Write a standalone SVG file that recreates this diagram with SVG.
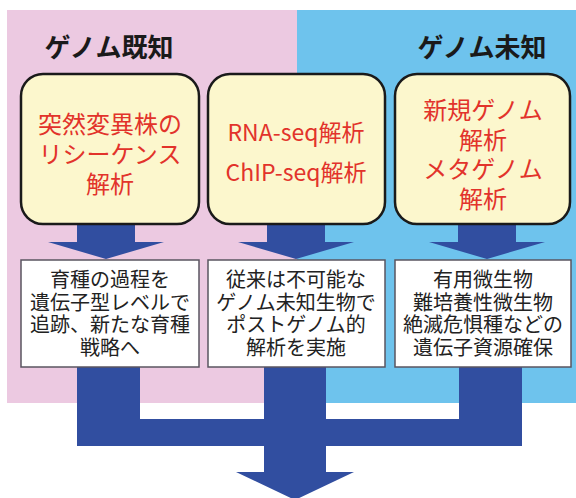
<svg xmlns="http://www.w3.org/2000/svg" width="576" height="498" viewBox="0 0 576 498">
<style>
.hdr{font-family:"Noto Sans CJK JP","Noto Sans CJK SC",sans-serif;font-weight:bold;font-size:26px;fill:#1a1a1a;text-anchor:middle;dominant-baseline:central}
.yb{fill:#fcf7cd;stroke:#1a1a1a;stroke-width:2.5}
.yt{font-family:"Noto Sans CJK JP","Noto Sans CJK SC",sans-serif;font-size:24px;fill:#e2332b;text-anchor:middle;dominant-baseline:central}
.yt2{font-size:23px}
.wb{fill:#ffffff;stroke:#5a5560;stroke-width:1.5}
.wt{font-family:"Noto Sans CJK JP","Noto Sans CJK SC",sans-serif;font-size:20px;fill:#222;text-anchor:middle;dominant-baseline:central}
.arr{fill:#314ea0}
</style>
<rect x="0" y="0" width="576" height="498" fill="#ffffff"/>
<rect x="7" y="10" width="290" height="393" fill="#ecc9e1"/>
<rect x="297" y="10" width="279" height="393" fill="#6ec3ed"/>
<text class="hdr" x="109" y="45">ゲノム既知</text>
<text class="hdr" x="482" y="45">ゲノム未知</text>
<g id="connectors">
<path class="arr" d="M77,367 H140 V419 H264 V367 H326 V419 H459 V367 H522 V446 H326 V472 H354 L295,500 L236,472 H264 V446 H77 Z"/>
<path class="arr" d="M77,222 H135 V242 H164 L106,259 L48,242 H77 Z"/>
<path class="arr" d="M267,222 H325 V242 H354 L296,259 L238,242 H267 Z"/>
<path class="arr" d="M458,222 H516 V242 H545 L487,259 L429,242 H458 Z"/>
</g>
<g id="node-mutant">
<rect class="yb" x="21" y="74" width="178" height="150" rx="22"/>
<text class="yt" x="110" y="122">突然変異株の</text>
<text class="yt" x="110" y="152">リシーケンス</text>
<text class="yt" x="110" y="182">解析</text>
</g>
<g id="node-seq">
<rect class="yb" x="208" y="74" width="177" height="150" rx="22"/>
<text class="yt yt2" x="296" y="131">RNA-seq解析</text>
<text class="yt yt2" x="296" y="171">ChIP-seq解析</text>
</g>
<g id="node-novel">
<rect class="yb" x="395" y="74" width="175" height="150" rx="22"/>
<text class="yt" x="483" y="108">新規ゲノム</text>
<text class="yt" x="483" y="138">解析</text>
<text class="yt" x="483" y="167">メタゲノム</text>
<text class="yt" x="483" y="197">解析</text>
</g>
<g id="node-breeding">
<rect class="wb" x="21" y="260" width="178" height="107"/>
<text class="wt" x="110" y="278.5">育種の過程を</text>
<text class="wt" x="110" y="301">遺伝子型レベルで</text>
<text class="wt" x="110" y="323.5">追跡、新たな育種</text>
<text class="wt" x="110" y="346">戦略へ</text>
</g>
<g id="node-postgenome">
<rect class="wb" x="208" y="260" width="177" height="107"/>
<text class="wt" x="296" y="278.5">従来は不可能な</text>
<text class="wt" x="296" y="301">ゲノム未知生物で</text>
<text class="wt" x="296" y="323.5">ポストゲノム的</text>
<text class="wt" x="296" y="346">解析を実施</text>
</g>
<g id="node-resources">
<rect class="wb" x="395" y="260" width="176" height="107"/>
<text class="wt" x="483" y="278.5">有用微生物</text>
<text class="wt" x="483" y="301">難培養性微生物</text>
<text class="wt" x="483" y="323.5">絶滅危惧種などの</text>
<text class="wt" x="483" y="346">遺伝子資源確保</text>
</g>
</svg>
